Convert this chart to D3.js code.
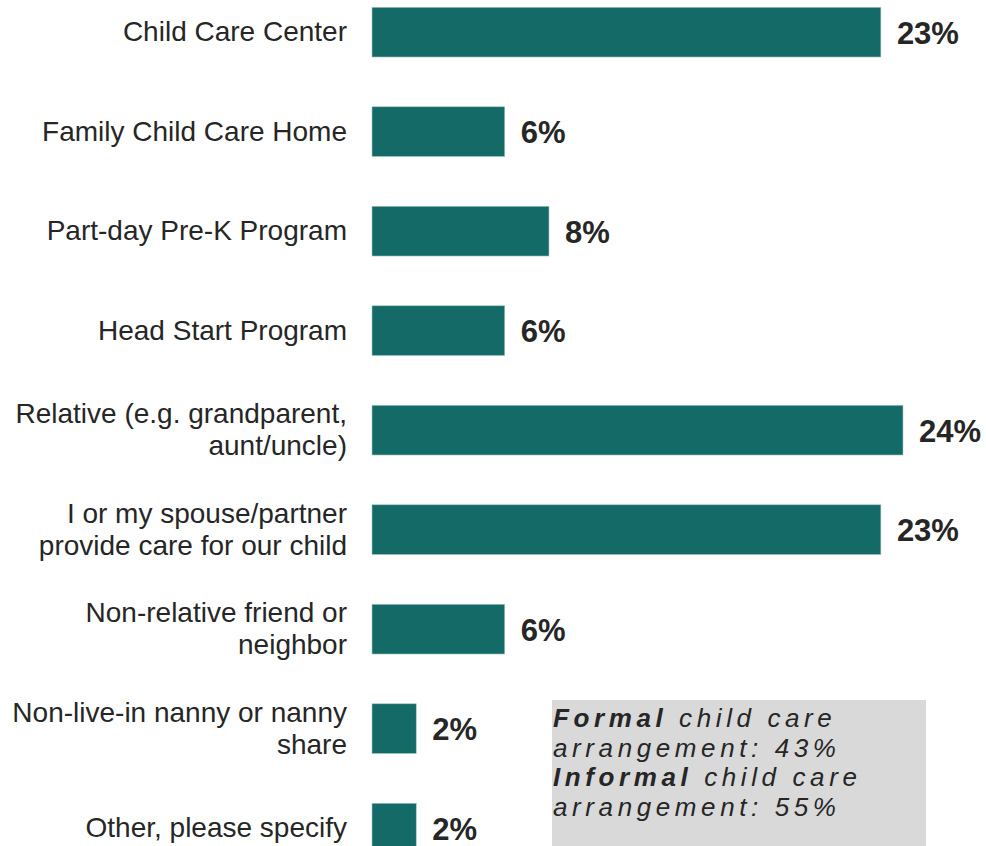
<!DOCTYPE html>
<html>
<head>
<meta charset="utf-8">
<script src="https://cdn.jsdelivr.net/npm/d3@7"></script>
<style>
    body { margin: 0; background: #fff; }
    svg { display: block; font-family: "Liberation Sans", Arial, sans-serif; }
    .cat-label { font-size: 28px; fill: #262626; }
    .val-label { font-size: 31px; font-weight: bold; fill: #262626; }
    .note-text { font-size: 26px; font-style: italic; fill: #262626; letter-spacing: 4.6px; }
</style>
</head>
<body>
<svg id="chart" width="986" height="846"></svg>
<script>
// categories, each one split into the lines it is drawn on
const categories = [
    ["Child Care Center"],
    ["Family Child Care Home"],
    ["Part-day Pre-K Program"],
    ["Head Start Program"],
    ["Relative (e.g. grandparent,", "aunt/uncle)"],
    ["I or my spouse/partner", "provide care for our child"],
    ["Non-relative friend or", "neighbor"],
    ["Non-live-in nanny or nanny", "share"],
    ["Other, please specify"]
];
const values = [23, 6, 8, 6, 24, 23, 6, 2, 2];

// summary box
const summaryTypes = ["Formal", "Informal"];
const summaryValues = [43, 55];

const svg = d3.select('#chart');

const y = d3.scaleBand()
    .domain(d3.range(categories.length))
    .range([-17.6, 877.9])
    .paddingInner(0.5)
    .paddingOuter(0.25);

const x = d3.scaleLinear()
    .domain([0, 24])
    .range([372, 903]);

const rows = categories.map((c, i) => ({lines: c, value: values[i], i: i}));

// bars
svg.selectAll('.bar')
    .data(rows)
    .enter()
    .append('rect')
    .attr('class', 'bar')
    .attr('x', x(0))
    .attr('y', d => y(d.i))
    .attr('width', d => x(d.value) - x(0))
    .attr('height', y.bandwidth())
    .attr('fill', '#136a66')
    .attr('stroke', '#a9c9c6')
    .attr('stroke-width', 0.6);

// category labels
const catText = svg.selectAll('.cat-label')
    .data(rows)
    .enter()
    .append('text')
    .attr('class', 'cat-label')
    .attr('text-anchor', 'end');

catText.selectAll('tspan')
    .data(d => d.lines.map((t, k) => ({t: t, k: k, n: d.lines.length, i: d.i})))
    .enter()
    .append('tspan')
    .attr('x', 347)
    .attr('y', d => {
        const mid = y(d.i) + y.bandwidth() / 2;
        return mid + 9 + (d.k - (d.n - 1) / 2) * 32;
    })
    .text(d => d.t);

// value labels
svg.selectAll('.val-label')
    .data(rows)
    .enter()
    .append('text')
    .attr('class', 'val-label')
    .attr('x', d => x(d.value) + 16)
    .attr('y', d => y(d.i) + y.bandwidth() / 2 + 11.5)
    .text(d => d.value + '%');

// summary box
const box = svg.append('g').attr('class', 'note');
box.append('rect')
    .attr('x', 552)
    .attr('y', 700)
    .attr('width', 374)
    .attr('height', 160)
    .attr('fill', '#d9d9d9');

summaryTypes.forEach((t, i) => {
    const base = 727 + i * 59;
    const line1 = box.append('text')
        .attr('class', 'note-text')
        .attr('x', 553)
        .attr('y', base);
    line1.append('tspan')
        .attr('font-weight', 'bold')
        .text(t);
    line1.append('tspan')
        .text(' child care');
    box.append('text')
        .attr('class', 'note-text')
        .attr('x', 553)
        .attr('y', base + 29.5)
        .text('arrangement: ' + summaryValues[i] + '%');
});
</script>
</body>
</html>
